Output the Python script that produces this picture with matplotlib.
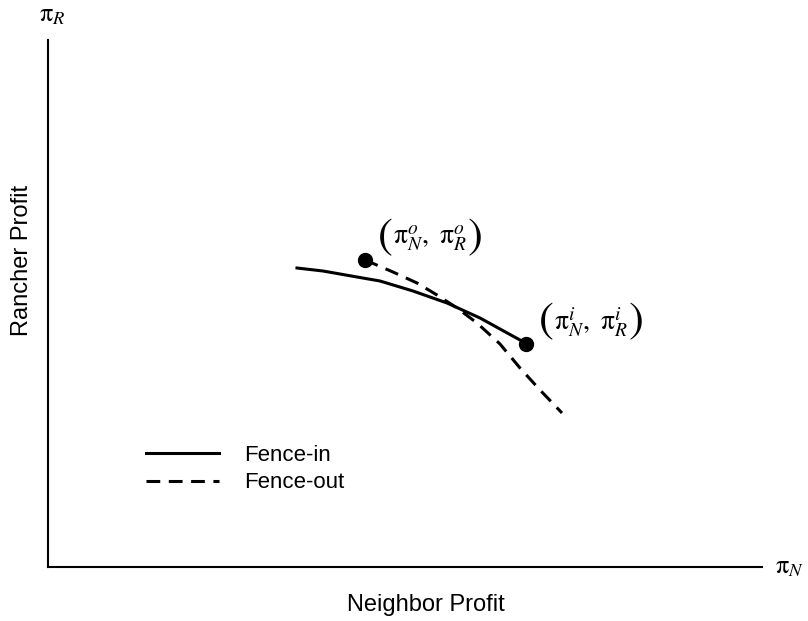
import matplotlib.pyplot as plt

plt.rcParams['font.family'] = ['Liberation Sans', 'DejaVu Sans']
plt.rcParams['mathtext.fontset'] = 'stix'

# Fence-in curve
fence_in_x = [249, 275, 309, 332, 365, 399, 432, 472, 478]
fence_in_y = [299, 296, 290, 286, 276, 264, 249, 227, 223]

# Fence-out curve
fence_out_x = [317, 345, 369, 389, 409, 429, 452, 472, 492, 514]
fence_out_y = [307, 295, 284, 272, 259, 244, 223, 199, 177, 154]

# Labeled endpoints
point_labels = [r"$\mathrm{\pi}_N^o,\ \mathrm{\pi}_R^o$", r"$\mathrm{\pi}_N^i,\ \mathrm{\pi}_R^i$"]
point_x = [317, 478]
point_y = [307, 223]

fig = plt.figure(figsize=(8.08, 6.21), dpi=100)
ax = fig.add_axes([48 / 808, 54 / 621, 714 / 808, 527 / 621])
ax.set_xlim(0, 714)
ax.set_ylim(0, 527)

ax.plot(fence_in_x, fence_in_y, color="black", lw=2.2, label="Fence-in")
ax.plot(fence_out_x, fence_out_y, color="black", lw=2.2, linestyle=(0, (4.5, 2.8)), label="Fence-out")
ax.plot(point_x, point_y, "o", color="black", markersize=10)

# labels with tall parentheses, placed up and right of each point
for lab, px, py in zip(point_labels, point_x, point_y):
    ax.text(px + 65, py + 21, lab, fontsize=20, ha="center", va="center")
    ax.text(px + 20, py + 22, "(", fontsize=32, family="STIXGeneral", ha="center", va="center")
    ax.text(px + 110, py + 22, ")", fontsize=32, family="STIXGeneral", ha="center", va="center")

for side in ["top", "right"]:
    ax.spines[side].set_visible(False)
ax.spines["left"].set_linewidth(1.5)
ax.spines["bottom"].set_linewidth(1.5)
ax.set_xticks([])
ax.set_yticks([])

ax.text(4, 540, r"$\mathrm{\pi}_R$", fontsize=19, ha="center", va="bottom", clip_on=False)
ax.text(727, 0, r"$\mathrm{\pi}_N$", fontsize=19, ha="left", va="center", clip_on=False)

fig.text(426 / 808, 1 - 605 / 621, "Neighbor Profit", fontsize=17, ha="center", va="center")
fig.text(22 / 808, 1 - 260 / 621, "Rancher Profit", fontsize=17, ha="center", va="center", rotation=90)

ax.legend(frameon=False, fontsize=16, handlelength=3.3, handletextpad=1.1, labelspacing=0.3,
          loc="center left", bbox_to_anchor=(126 / 808, 1 - 469 / 621), bbox_transform=fig.transFigure)

fig.savefig("out.png", dpi=100)
